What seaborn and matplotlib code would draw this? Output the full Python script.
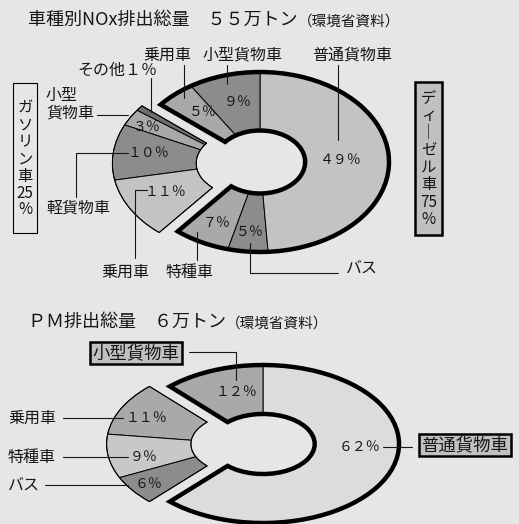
import numpy as np
import pandas as pd
import seaborn as sns
import matplotlib.pyplot as plt
from matplotlib.patches import Rectangle

W, H = 519, 524
BG = "#e6e6e6"
INK = "#161616"

# NOx (55万トン): slices counterclockwise, starting at the upper edge of the gasoline group
nox_names = ["その他", "小型貨物車", "軽貨物車", "乗用車", "特種車", "バス", "普通貨物車", "小型貨物車", "乗用車"]
nox_pct = [1, 3, 10, 11, 7, 5, 49, 9, 5]
nox_fuel = ["ガソリン", "ガソリン", "ガソリン", "ガソリン", "ディーゼル", "ディーゼル", "ディーゼル", "ディーゼル", "ディーゼル"]
nox_total = 55

# PM (6万トン)
pm_names = ["乗用車", "特種車", "バス", "普通貨物車", "小型貨物車"]
pm_pct = [11, 9, 6, 62, 12]
pm_fuel = ["ガソリン", "ガソリン", "ガソリン", "ディーゼル", "ディーゼル"]
pm_total = 6

# styles
nox_colors = ["#6e6e6e", "#a9a9a9", "#8c8c8c", "#c3c3c3", "#a9a9a9", "#8c8c8c", "#c3c3c3", "#8c8c8c", "#a9a9a9"]
pm_colors = ["#a9a9a9", "#c8c8c8", "#8c8c8c", "#dcdcdc", "#a9a9a9"]

# label placement in pixels (x, y from top-left)
nox_pct_xy = [None, (147, 127), (148, 153), (165, 192), (217, 223), (250, 232), (341, 160), (238, 102), (203, 112)]
nox_lab_xy = [(117, 70), (46, 104), (78, 208), (125, 272), (190, 272), (362, 268), (352, 55), (243, 55), (167, 55)]
nox_leaders = [[(151, 78), (151, 112)], [(97, 115), (128, 115)], [(76, 197), (76, 153), (128, 153)],
               [(135, 258), (135, 190), (147, 190)], [(197, 232), (197, 260)],
               [(250, 243), (250, 273), (338, 273)], [(338, 65), (338, 140)],
               [(227, 65), (227, 84)], [(184, 65), (184, 98)]]
pm_pct_xy = [(146, 418), (144, 457), (149, 484), (359, 447), (236, 392)]
pm_lab_xy = [(8, 418), (8, 457), (8, 485), (465, 445), (136, 353)]
pm_leaders = [[(63, 418), (123, 418)], [(63, 457), (128, 457)], [(45, 485), (128, 485)],
              [(383, 447), (412, 447)], [(189, 352), (236, 352), (236, 380)]]

sns.set_theme(style="white")
plt.rcParams["font.family"] = ["Noto Sans CJK JP", "DejaVu Sans"]

ZEN = str.maketrans("0123456789%()PM", "０１２３４５６７８９％（）ＰＭ")


def zen(s):
    return s.translate(ZEN)


fig = plt.figure(figsize=(W / 100, H / 100), dpi=100, facecolor=BG)
ov = fig.add_axes([0, 0, 1, 1], zorder=5)
ov.set_xlim(0, W)
ov.set_ylim(H, 0)
ov.axis("off")


def txt(x, y, s, size=11.5, ha="center", **kw):
    return ov.text(x, y, s, fontsize=size, ha=ha, va="center", color=INK, **kw)


def donut(names, pct, fuel, colors, cx, cy, rx, ry, width, explode):
    ax = fig.add_axes([0, 0, 1, 1], zorder=1)
    df = pd.DataFrame({"name": names, "pct": pct, "fuel": fuel})
    i = names.index("普通貨物車")
    start = 90 + 3.6 * sum(pct[i + 1:])
    grp = df.groupby("fuel", sort=False)["pct"].sum()
    # the whole gasoline group is pulled out along its own mid angle
    mid = np.deg2rad(start + 3.6 * grp["ガソリン"] / 2)
    shift = (explode * np.cos(mid), explode * np.sin(mid))
    wedges, _ = ax.pie(df["pct"], colors=colors, startangle=start,
                       wedgeprops=dict(width=width, edgecolor="black", linewidth=0.7))
    for w, f in zip(wedges, fuel):
        if f == "ガソリン":
            w.set_center(shift)
    rims, _ = ax.pie(grp.values, startangle=start,
                     wedgeprops=dict(width=width, fill=False, edgecolor="black",
                                     linewidth=0.7, joinstyle="miter"))
    for w, f in zip(rims, grp.index):
        if f == "ガソリン":
            w.set_center(shift)
        else:
            w.set_linewidth(3.2)
    ax.set_aspect("auto")
    ax.set_xlim(-cx / rx, (W - cx) / rx)
    ax.set_ylim((cy - H) / ry, cy / ry)
    ax.axis("off")
    return grp


def leaders(lines):
    for ln in lines:
        xs, ys = zip(*ln)
        ov.plot(xs, ys, color=INK, lw=0.8)


# ---- NOx ----
grp = donut(nox_names, nox_pct, nox_fuel, nox_colors, 260, 162, 129, 90, 0.65, 0.145)
t = txt(28, 20, "車種別NOx排出総量　" + zen(str(nox_total)) + "万トン", size=13, ha="left")
ov.annotate("（環境省資料）", xy=(1, 0.05), xycoords=t, va="bottom", fontsize=10.5, color=INK)
leaders(nox_leaders)
for name, p, fu, pxy, lxy in zip(nox_names, nox_pct, nox_fuel, nox_pct_xy, nox_lab_xy):
    if pxy is not None:
        txt(*pxy, zen(f"{p}%"), size=10)
    if name == "その他":
        txt(*lxy, name + zen(f"{p}%"))
    elif name == "小型貨物車" and fu == "ガソリン":
        txt(*lxy, "小型\n貨物車", ha="left", linespacing=1.05)
    else:
        txt(*lxy, name)

# fuel boxes (vertical text)
ov.add_patch(Rectangle((13, 83), 24, 150, facecolor=BG, edgecolor="black", lw=0.8))
for k, ch in enumerate(list("ガソリン車") + [str(grp["ガソリン"]), "%"]):
    txt(25, 108 + 17 * k, ch, size=11)
ov.add_patch(Rectangle((415, 82), 27, 153, facecolor="#c0c0c0", edgecolor="black", lw=1.8))
for k, ch in enumerate(["デ", "ィ", "｜", "ゼ", "ル", "車", str(grp["ディーゼル"]), "%"]):
    txt(428.5, 98 + 17.4 * k, ch, size=11)

# ---- PM ----
donut(pm_names, pm_pct, pm_fuel, pm_colors, 263, 444, 136, 79, 0.62, 0.15)
t = txt(28, 322, zen("PM") + "排出総量　" + zen(str(pm_total)) + "万トン", size=13, ha="left")
ov.annotate("（環境省資料）", xy=(1, 0.05), xycoords=t, va="bottom", fontsize=10.5, color=INK)
leaders(pm_leaders)
for name, p, fu, pxy, lxy in zip(pm_names, pm_pct, pm_fuel, pm_pct_xy, pm_lab_xy):
    txt(*pxy, zen(f"{p}%"), size=10)
    if fu == "ディーゼル":
        txt(*lxy, name, size=12.5,
            bbox=dict(boxstyle="square,pad=0.12", facecolor="#c0c0c0", edgecolor="black", lw=1.8))
    else:
        txt(*lxy, name, ha="left")

fig.savefig("out.png", dpi=100, facecolor=BG)
